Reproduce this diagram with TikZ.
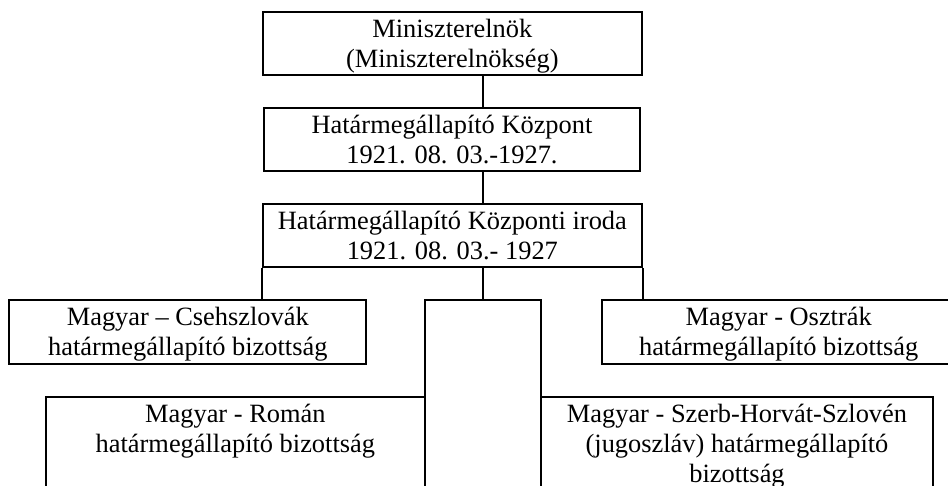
\documentclass[tikz,border=0pt]{standalone}
\usepackage{fontspec}
\setmainfont{Liberation Serif}
\newcommand\mystrut{\rule[-5.7pt]{0pt}{29.1pt}}
\begin{document}
\begin{tikzpicture}[x=1pt,y=-1pt,
  box/.style={draw, line width=2pt, align=center,
    font=\fontsize{26.4}{30.2}\selectfont, inner xsep=0pt, inner ysep=2pt,
    anchor=north west},
  conn/.style={line width=2pt}]
\useasboundingbox (0,0) rectangle (948,486);
\clip (0,0) rectangle (948,486);
\node[box, minimum width=379.3pt] (b1) at (261.7,11)
  {\mystrut Miniszterelnök\\\mystrut (Miniszterelnökség)};
\node[box, minimum width=376.6pt] (b2) at (262.7,107)
  {\mystrut Határmegállapító Központ\\\mystrut 1921. 08. 03.-1927.};
\node[box, minimum width=379.3pt] (b3) at (261.7,203)
  {\mystrut Határmegállapító Központi iroda\\\mystrut 1921. 08. 03.- 1927};
\node[box, minimum width=357pt] (cseh) at (8.3,299.3)
  {\mystrut Magyar – Csehszlovák\\\mystrut határmegállapító bizottság};
\node[box, minimum width=116pt, minimum height=200pt] (mid) at (424,299.3) {};
\node[box, minimum width=354pt] (oszt) at (600.7,299.3)
  {\mystrut Magyar - Osztrák\\\mystrut határmegállapító bizottság};
\node[box, minimum width=379.3pt] (roman) at (44.7,396)
  {\mystrut Magyar - Román\\\mystrut határmegállapító bizottság\\\mystrut};
\node[box, minimum width=392pt] (szerb) at (540,396)
  {\mystrut Magyar - Szerb-Horvát-Szlovén\\\mystrut (jugoszláv) határmegállapító\\\mystrut bizottság};
\coordinate (cx) at (482.7,0);
\draw[conn] (b1.south -| cx) -- (b2.north -| cx);
\draw[conn] (b2.south -| cx) -- (b3.north -| cx);
\draw[conn] (b3.south west) -- (b3.south west |- cseh.north);
\draw[conn] (b3.south -| cx) -- (mid.north -| cx);
\draw[conn] (b3.south east) -- (b3.south east |- oszt.north);
\end{tikzpicture}
\end{document}
